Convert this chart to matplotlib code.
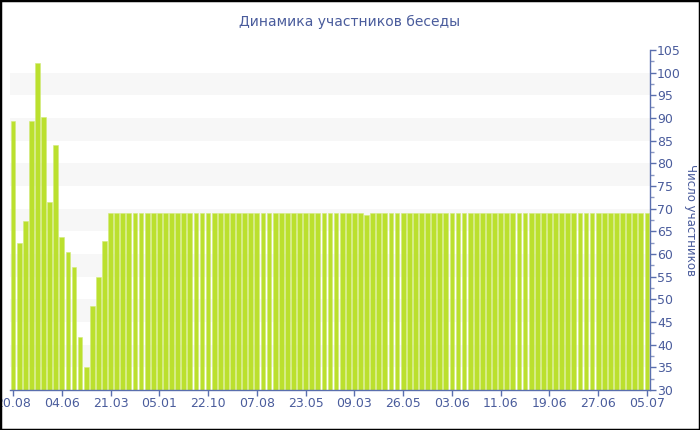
import matplotlib
matplotlib.use("Agg")
import matplotlib.pyplot as plt
from matplotlib.patches import Rectangle
from matplotlib.ticker import MultipleLocator

title = "Динамика участников беседы"
ylabel = "Число участников"
head_values = [89.4, 62.4, 67.2, 89.4, 102.1, 90.2, 71.4, 84.0, 63.7, 60.4,
               57.1, 41.8, 35.0, 48.5, 55.0, 62.8]
plateau_values = [69.0] * 42 + [68.6] + [69.0] * 46
values = head_values + plateau_values
tick_labels = ["20.08", "04.06", "21.03", "05.01", "22.10", "07.08", "23.05",
               "09.03", "26.05", "03.06", "11.06", "19.06", "27.06", "05.07"]
tick_step = 8

text_col = "#4a5c9c"
axis_col = "#5a6fae"
bar_col = "#bbe02e"

fig = plt.figure(figsize=(7, 4.3), dpi=100)
ax = fig.add_axes([10/700, 40/430, 640/700, 340/430])

for lo in range(35, 100, 10):
    ax.axhspan(lo, lo + 5, color="#f7f7f7", zorder=0, lw=0)

x = list(range(len(values)))
ax.bar(x, [v - 30 for v in values], bottom=30, width=0.78, color=bar_col,
       edgecolor="#d2ea7a", linewidth=0.4, zorder=2)

ax.set_xlim(-0.5, len(values) - 0.5)
ax.set_ylim(30, 105)
ax.set_xticks(list(range(0, len(values), tick_step)))
ax.set_xticklabels(tick_labels)
ax.yaxis.tick_right()
ax.yaxis.set_label_position("right")
ax.yaxis.set_major_locator(MultipleLocator(5))
ax.yaxis.set_minor_locator(MultipleLocator(2.5))

for s in ["top", "left"]:
    ax.spines[s].set_visible(False)
for s in ["bottom", "right"]:
    ax.spines[s].set_color(axis_col)
    ax.spines[s].set_linewidth(1)

ax.tick_params(axis="x", colors=axis_col, labelcolor=text_col, labelsize=9,
               length=4, width=1, pad=1)
ax.tick_params(axis="y", which="major", colors=axis_col, labelcolor=text_col,
               labelsize=9, length=4, width=1, pad=1)
ax.tick_params(axis="y", which="minor", colors="#8a98c4", length=3, width=1)

ax.set_ylabel(ylabel, rotation=270, color=text_col, fontsize=8.5,
              va="center", ha="center")
ax.yaxis.set_label_coords((690 - 10) / 640, 0.5)
fig.text(350/700, 1 - 22/430, title, ha="center", va="center",
         color=text_col, fontsize=10)

fig.patches.append(Rectangle((0, 0), 1, 1, transform=fig.transFigure,
                             fill=False, edgecolor="black", linewidth=2.5))

fig.savefig("out.png", dpi=100)
